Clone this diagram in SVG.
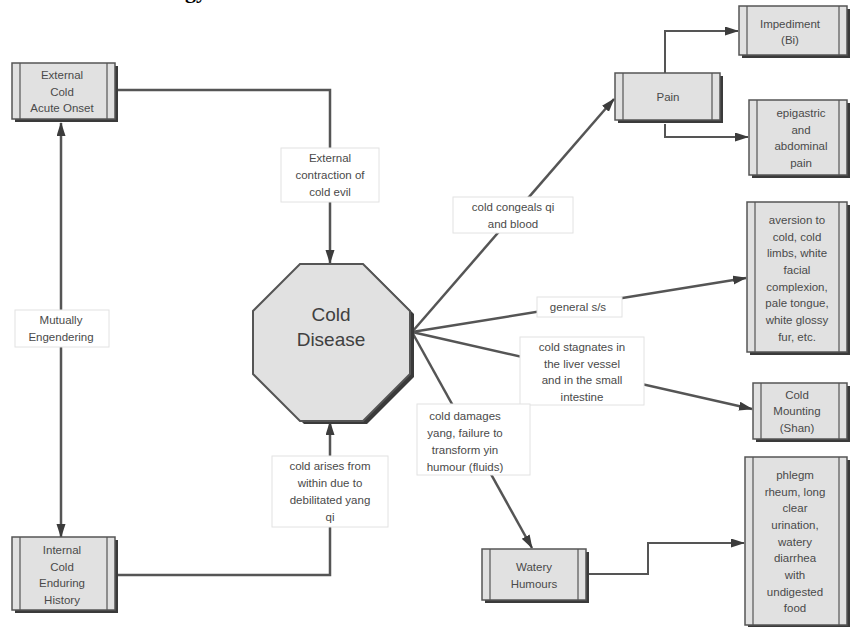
<svg xmlns="http://www.w3.org/2000/svg" width="851" height="627" viewBox="0 0 851 627">
<defs>
<style>
.t{font-family:"Liberation Sans",Arial,sans-serif;font-size:11.5px;fill:#4a4a4a;text-anchor:middle}
.big{font-family:"Liberation Sans",Arial,sans-serif;font-size:19px;fill:#404040;text-anchor:middle}
.sh{fill:#3a3a3a}
.bx{fill:#e1e1e1;stroke:#555;stroke-width:1.5}
.bar{stroke:#555;stroke-width:1.2}
.lbl{fill:#fff;stroke:#e2e2e2;stroke-width:1}
.c{fill:none;stroke:#555;stroke-width:2.5}
.c2{fill:none;stroke:#555;stroke-width:2}
</style>
<marker id="ah" markerUnits="userSpaceOnUse" markerWidth="14" markerHeight="10" refX="13" refY="4.5" orient="auto">
<path d="M0,0 L14,4.5 L0,9 z" fill="#3c3c3c"/>
</marker>
<marker id="ahs" markerUnits="userSpaceOnUse" markerWidth="14" markerHeight="10" refX="13" refY="4.5" orient="auto-start-reverse">
<path d="M0,0 L14,4.5 L0,9 z" fill="#3c3c3c"/>
</marker>
</defs>
<rect width="851" height="627" fill="#fff"/>
<text x="174" y="-2" font-family="Liberation Serif,serif" font-size="22" font-weight="bold" fill="#000">ogy</text>

<g id="connectors">
<line class="c" x1="61" y1="537" x2="61" y2="123" marker-end="url(#ah)" marker-start="url(#ahs)"/>
<polyline class="c" points="118,90 330,90 330,263" marker-end="url(#ah)"/>
<polyline class="c" points="118,575 330,575 330,422" marker-end="url(#ah)"/>
<line class="c" x1="412" y1="332" x2="614" y2="99" marker-end="url(#ah)"/>
<line class="c" x1="412" y1="332" x2="746" y2="278" marker-end="url(#ah)"/>
<line class="c" x1="412" y1="332" x2="752" y2="409" marker-end="url(#ah)"/>
<line class="c" x1="412" y1="332" x2="532" y2="548" marker-end="url(#ah)"/>
<polyline class="c2" points="665,73 665,31 738,31" marker-end="url(#ah)"/>
<polyline class="c2" points="665,124 665,137 748,137" marker-end="url(#ah)"/>
<polyline class="c2" points="589,574 648,574 648,543 744,543" marker-end="url(#ah)"/>
</g>

<g id="lbl-mutual"><rect class="lbl" x="15" y="310" width="94" height="37"/><text class="t" x="61" y="324">Mutually</text><text class="t" x="61" y="341">Engendering</text></g>
<g id="lbl-external"><rect class="lbl" x="281" y="148" width="98" height="54"/><text class="t" x="330" y="162">External</text><text class="t" x="330" y="179">contraction of</text><text class="t" x="330" y="196">cold evil</text></g>
<g id="lbl-arises"><rect class="lbl" x="272" y="456" width="116" height="71"/><text class="t" x="330" y="470">cold arises from</text><text class="t" x="330" y="487">within due to</text><text class="t" x="330" y="504">debilitated yang</text><text class="t" x="330" y="521">qi</text></g>
<g id="lbl-congeals"><rect class="lbl" x="453" y="197" width="120" height="36"/><text class="t" x="513" y="211">cold congeals qi</text><text class="t" x="513" y="228">and blood</text></g>
<g id="lbl-general"><rect class="lbl" x="537" y="297" width="85" height="20"/><text class="t" x="578" y="311">general s/s</text></g>
<g id="lbl-stagnates"><rect class="lbl" x="520" y="337" width="124" height="68"/><text class="t" x="582" y="351">cold stagnates in</text><text class="t" x="582" y="368">the liver vessel</text><text class="t" x="582" y="384">and in the small</text><text class="t" x="582" y="401">intestine</text></g>
<g id="lbl-damages"><rect class="lbl" x="417" y="404" width="113" height="71"/><text class="t" x="465" y="420">cold damages</text><text class="t" x="465" y="437">yang, failure to</text><text class="t" x="465" y="454">transform yin</text><text class="t" x="465" y="471">humour (fluids)</text></g>

<g id="cold-disease">
<polygon class="sh" points="304,267 367,267 414,314 414,377 367,424 304,424 257,377 257,314"/>
<polygon points="300,264 363,264 410,311 410,374 363,421 300,421 253,374 253,311" fill="#e1e1e1" stroke="#555" stroke-width="2"/>
<text class="big" x="331" y="321">Cold</text>
<text class="big" x="331" y="346">Disease</text>
</g>

<g id="external-cold">
<rect class="sh" x="15" y="66" width="103" height="56"/>
<rect class="bx" x="12" y="63" width="103" height="56"/>
<line class="bar" x1="20" y1="63" x2="20" y2="119"/><line class="bar" x1="107" y1="63" x2="107" y2="119"/>
<text class="t" x="62" y="79">External</text><text class="t" x="62" y="96">Cold</text><text class="t" x="62" y="112">Acute Onset</text>
</g>
<g id="internal-cold">
<rect class="sh" x="15" y="540" width="103" height="73"/>
<rect class="bx" x="12" y="537" width="103" height="73"/>
<line class="bar" x1="20" y1="537" x2="20" y2="610"/><line class="bar" x1="107" y1="537" x2="107" y2="610"/>
<text class="t" x="62" y="554">Internal</text><text class="t" x="62" y="571">Cold</text><text class="t" x="62" y="587">Enduring</text><text class="t" x="62" y="604">History</text>
</g>
<g id="pain">
<rect class="sh" x="618" y="76" width="105" height="47"/>
<rect class="bx" x="615" y="73" width="105" height="47"/>
<line class="bar" x1="623" y1="73" x2="623" y2="120"/><line class="bar" x1="712" y1="73" x2="712" y2="120"/>
<text class="t" x="668" y="101">Pain</text>
</g>
<g id="impediment">
<rect class="sh" x="742" y="9" width="108" height="49"/>
<rect class="bx" x="739" y="6" width="108" height="49"/>
<line class="bar" x1="747" y1="6" x2="747" y2="55"/><line class="bar" x1="839" y1="6" x2="839" y2="55"/>
<text class="t" x="790" y="28">Impediment</text><text class="t" x="790" y="44">(Bi)</text>
</g>
<g id="epigastric">
<rect class="sh" x="752" y="103" width="98" height="75"/>
<rect class="bx" x="749" y="100" width="98" height="75"/>
<line class="bar" x1="757" y1="100" x2="757" y2="175"/><line class="bar" x1="839" y1="100" x2="839" y2="175"/>
<text class="t" x="801" y="117">epigastric</text><text class="t" x="801" y="134">and</text><text class="t" x="801" y="150">abdominal</text><text class="t" x="801" y="167">pain</text>
</g>
<g id="aversion">
<rect class="sh" x="750" y="205" width="100" height="150"/>
<rect class="bx" x="747" y="202" width="100" height="150"/>
<line class="bar" x1="755" y1="202" x2="755" y2="352"/><line class="bar" x1="839" y1="202" x2="839" y2="352"/>
<text class="t" x="797" y="224">aversion to</text><text class="t" x="797" y="241">cold, cold</text><text class="t" x="797" y="257">limbs, white</text><text class="t" x="797" y="274">facial</text><text class="t" x="797" y="291">complexion,</text><text class="t" x="797" y="307">pale tongue,</text><text class="t" x="797" y="324">white glossy</text><text class="t" x="797" y="341">fur, etc.</text>
</g>
<g id="cold-mounting">
<rect class="sh" x="756" y="386" width="94" height="56"/>
<rect class="bx" x="753" y="383" width="94" height="56"/>
<line class="bar" x1="761" y1="383" x2="761" y2="439"/><line class="bar" x1="839" y1="383" x2="839" y2="439"/>
<text class="t" x="797" y="399">Cold</text><text class="t" x="797" y="415">Mounting</text><text class="t" x="797" y="432">(Shan)</text>
</g>
<g id="watery-humours">
<rect class="sh" x="485" y="552" width="104" height="51"/>
<rect class="bx" x="482" y="549" width="104" height="51"/>
<line class="bar" x1="490" y1="549" x2="490" y2="600"/><line class="bar" x1="578" y1="549" x2="578" y2="600"/>
<text class="t" x="534" y="571">Watery</text><text class="t" x="534" y="588">Humours</text>
</g>
<g id="phlegm">
<rect class="sh" x="748" y="460" width="102" height="170"/>
<rect class="bx" x="745" y="457" width="102" height="168"/>
<line class="bar" x1="753" y1="457" x2="753" y2="625"/><line class="bar" x1="839" y1="457" x2="839" y2="625"/>
<text class="t" x="795" y="479">phlegm</text><text class="t" x="795" y="496">rheum, long</text><text class="t" x="795" y="512">clear</text><text class="t" x="795" y="529">urination,</text><text class="t" x="795" y="546">watery</text><text class="t" x="795" y="562">diarrhea</text><text class="t" x="795" y="579">with</text><text class="t" x="795" y="596">undigested</text><text class="t" x="795" y="612">food</text>
</g>
</svg>
